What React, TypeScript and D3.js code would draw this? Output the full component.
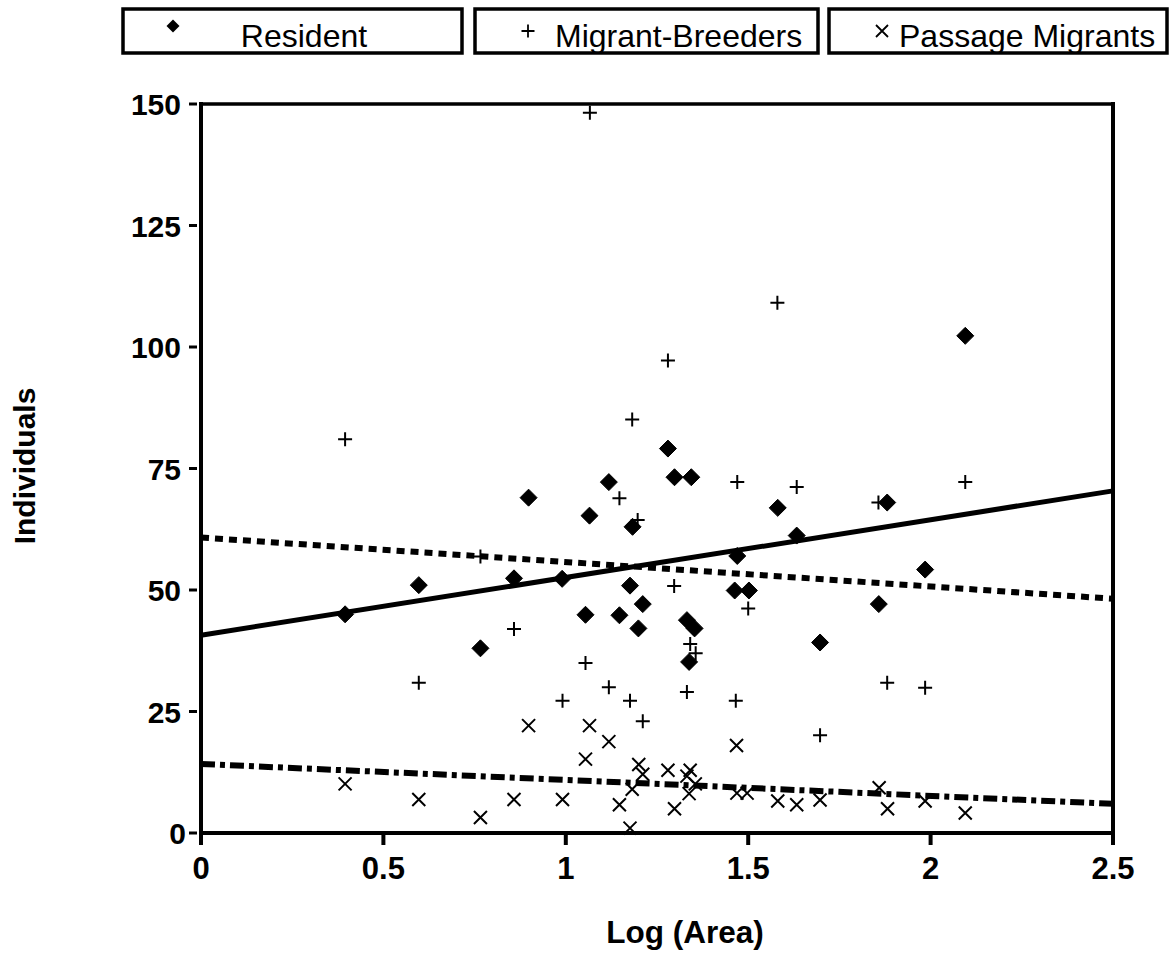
import React from "react";
import * as d3 from "d3";

const residentX = [0.395, 0.597, 0.766, 0.858, 0.898, 0.990, 1.054, 1.065, 1.118, 1.147, 1.176, 1.183, 1.199, 1.211, 1.280, 1.298, 1.332, 1.338, 1.344, 1.353, 1.463, 1.470, 1.502, 1.581, 1.633, 1.697, 1.858, 1.881, 1.985, 2.095];
const residentY = [45.0, 51.0, 38.0, 52.4, 69.0, 52.3, 44.9, 65.3, 72.2, 44.8, 50.9, 63.0, 42.1, 47.1, 79.1, 73.2, 43.8, 35.2, 73.2, 42.1, 49.9, 57.0, 49.9, 66.9, 61.2, 39.2, 47.1, 68.0, 54.2, 102.3];

const migrantX = [0.395, 0.597, 0.766, 0.858, 0.991, 1.054, 1.066, 1.118, 1.147, 1.176, 1.182, 1.197, 1.211, 1.280, 1.297, 1.332, 1.341, 1.356, 1.466, 1.470, 1.500, 1.580, 1.633, 1.697, 1.857, 1.881, 1.985, 2.095];
const migrantY = [81.0, 30.9, 56.9, 42.0, 27.2, 35.0, 148.2, 30.0, 68.9, 27.2, 85.1, 64.4, 23.0, 97.2, 50.8, 29.0, 38.9, 37.0, 27.2, 72.2, 46.2, 109.1, 71.2, 20.1, 68.0, 30.9, 29.9, 72.2];

const passageX = [0.395, 0.597, 0.766, 0.858, 0.898, 0.991, 1.054, 1.065, 1.118, 1.147, 1.176, 1.182, 1.200, 1.211, 1.280, 1.298, 1.332, 1.338, 1.341, 1.355, 1.468, 1.469, 1.497, 1.581, 1.633, 1.697, 1.859, 1.882, 1.985, 2.095];
const passageY = [10.1, 6.9, 3.2, 6.9, 22.1, 6.9, 15.2, 22.1, 18.8, 5.8, 1.0, 9.0, 14.1, 12.1, 12.9, 5.0, 11.7, 8.1, 12.9, 10.1, 18.0, 8.2, 8.2, 6.6, 5.8, 6.8, 9.3, 5.0, 6.6, 4.1];

// fitted trend lines, endpoints read at x = 0 and x = 2.5
const trendX = [0, 2.5];
const residentTrend = [40.7, 70.4];
const migrantTrend = [60.8, 48.2];
const passageTrend = [14.2, 6.0];

const xTicks = [0, 0.5, 1, 1.5, 2, 2.5];
const yTicks = [0, 25, 50, 75, 100, 125, 150];
const legendLabels = ["Resident", "Migrant-Breeders", "Passage Migrants"];

const W = 1175;
const H = 954;
const FONT = "'Liberation Sans', Arial, Helvetica, sans-serif";

export default function App() {
  const x = d3.scaleLinear().domain([0, 2.5]).range([201, 1113]);
  const y = d3.scaleLinear().domain([0, 150]).range([833, 104]);

  const line = d3
    .line<[number, number]>()
    .x((d) => x(d[0]))
    .y((d) => y(d[1]));

  const mk = (vals: number[]) => trendX.map((t, i) => [t, vals[i]] as [number, number]);

  const diamond = (cx: number, cy: number, r: number) =>
    `M${cx},${cy - r}L${cx + r},${cy}L${cx},${cy + r}L${cx - r},${cy}Z`;

  const plus = (cx: number, cy: number, r: number) =>
    `M${cx - r},${cy}L${cx + r},${cy}M${cx},${cy - r}L${cx},${cy + r}`;

  const cross = (cx: number, cy: number, r: number) =>
    `M${cx - r},${cy - r}L${cx + r},${cy + r}M${cx - r},${cy + r}L${cx + r},${cy - r}`;

  const legendBoxes = [
    { x0: 123, x1: 462 },
    { x0: 475, x1: 818 },
    { x0: 829, x1: 1167 },
  ];

  return (
    <svg
      width={W}
      height={H}
      style={{ position: "absolute", left: 0, top: 0, background: "#fff" }}
      fontFamily={FONT}
    >
      <rect x={0} y={0} width={W} height={H} fill="#fff" />

      {/* Legend */}
      {legendBoxes.map((b, i) => (
        <rect
          key={"lb" + i}
          x={b.x0}
          y={9}
          width={b.x1 - b.x0}
          height={44}
          fill="none"
          stroke="#000"
          strokeWidth={3.5}
        />
      ))}
      <path d={diamond(173, 26, 6.5)} fill="#000" />
      <text x={304} y={47} fontSize={32} textAnchor="middle" fill="#000">
        {legendLabels[0]}
      </text>
      <path d={plus(528, 31, 6.5)} stroke="#000" strokeWidth={1.8} fill="none" />
      <text x={555} y={47} fontSize={32} fill="#000">
        {legendLabels[1]}
      </text>
      <path d={cross(882, 31, 6)} stroke="#000" strokeWidth={1.8} fill="none" />
      <text x={899} y={47} fontSize={32} fill="#000">
        {legendLabels[2]}
      </text>

      {/* Frame */}
      <line x1={201} y1={104} x2={1115} y2={104} stroke="#000" strokeWidth={3.5} />
      <line x1={1113} y1={102} x2={1113} y2={835} stroke="#000" strokeWidth={4} />
      <line x1={201} y1={102} x2={201} y2={835} stroke="#000" strokeWidth={4} />
      <line x1={199} y1={833} x2={1115} y2={833} stroke="#000" strokeWidth={4} />

      {/* Y ticks */}
      {yTicks.map((t) => (
        <g key={"yt" + t}>
          <line x1={189} x2={197} y1={y(t)} y2={y(t)} stroke="#000" strokeWidth={3} />
          <text
            x={t === 0 ? 186 : 181}
            y={y(t) + 11}
            fontSize={30}
            fontWeight="bold"
            textAnchor="end"
            fill="#000"
          >
            {t}
          </text>
        </g>
      ))}

      {/* X ticks */}
      {xTicks.map((t) => (
        <g key={"xt" + t}>
          <line x1={x(t)} x2={x(t)} y1={833} y2={845} stroke="#000" strokeWidth={4} />
          <text
            x={x(t)}
            y={879}
            fontSize={31}
            fontWeight="bold"
            textAnchor="middle"
            fill="#000"
          >
            {t}
          </text>
        </g>
      ))}

      {/* Axis titles */}
      <text x={685} y={943} fontSize={31.5} fontWeight="bold" textAnchor="middle" fill="#000">
        Log (Area)
      </text>
      <text
        transform={`translate(35,466) rotate(-90)`}
        fontSize={30}
        fontWeight="bold"
        textAnchor="middle"
        fill="#000"
      >
        Individuals
      </text>

      {/* Trend lines */}
      <path d={line(mk(residentTrend)) || ""} stroke="#000" strokeWidth={5} fill="none" />
      <path
        d={line(mk(migrantTrend)) || ""}
        stroke="#000"
        strokeWidth={6}
        fill="none"
        strokeDasharray="8,6"
      />
      <path
        d={line(mk(passageTrend)) || ""}
        stroke="#000"
        strokeWidth={6}
        fill="none"
        strokeDasharray="14,5,5,5"
      />

      {/* Points */}
      {residentX.map((v, i) => (
        <path key={"r" + i} d={diamond(x(v), y(residentY[i]), 8.5)} fill="#000" stroke="#000" strokeWidth={1} strokeLinejoin="round" />
      ))}
      {migrantX.map((v, i) => (
        <path key={"m" + i} d={plus(x(v), y(migrantY[i]), 7)} stroke="#000" strokeWidth={2} fill="none" />
      ))}
      {passageX.map((v, i) => (
        <path key={"p" + i} d={cross(x(v), y(passageY[i]), 6.5)} stroke="#000" strokeWidth={2} fill="none" />
      ))}
    </svg>
  );
}
